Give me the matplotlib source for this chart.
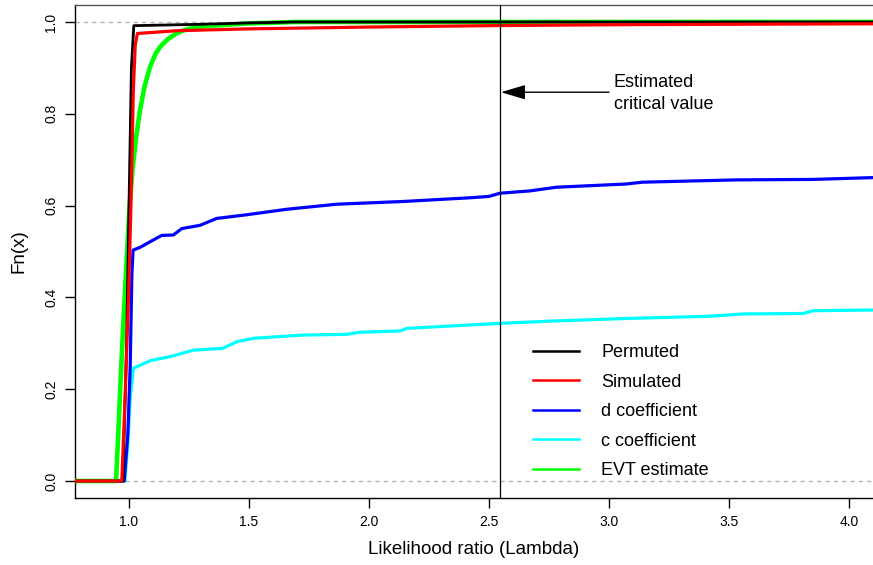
import matplotlib
matplotlib.use("Agg")
import matplotlib.pyplot as plt

plt.rcParams['font.family'] = ['Liberation Sans', 'DejaVu Sans']

# ---- data ----
perm_x = [0.775, 0.975, 0.99, 1.0, 1.01, 1.02, 1.3, 1.5, 1.7, 4.1]
perm_y = [0.0, 0.0, 0.30, 0.60, 0.90, 0.992, 0.995, 0.998, 1.0, 1.0]

sim_x = [0.775, 0.97, 0.985, 0.998, 1.008, 1.018, 1.026, 1.035, 1.2, 1.5, 2.0, 2.5, 3.0, 3.5, 4.1]
sim_y = [0.0, 0.0, 0.20, 0.40, 0.60, 0.85, 0.95, 0.975, 0.981, 0.985, 0.989, 0.992, 0.994, 0.995, 0.996]

d_x = [0.775, 0.98, 0.995, 1.005, 1.012, 1.017, 1.046, 1.101, 1.136, 1.185, 1.22, 1.296, 1.365,
       1.49, 1.657, 1.865, 2.143, 2.42, 2.50, 2.546, 2.67, 2.78, 3.07, 3.14, 3.53, 3.85, 4.1]
d_y = [0.0, 0.0, 0.10, 0.25, 0.45, 0.503, 0.509, 0.525, 0.535, 0.536, 0.550, 0.557, 0.572,
       0.580, 0.592, 0.603, 0.609, 0.617, 0.620, 0.627, 0.632, 0.640, 0.647, 0.651, 0.656, 0.657, 0.661]

c_x = [0.775, 0.983, 0.995, 1.005, 1.018, 1.0875, 1.171, 1.268, 1.39, 1.45, 1.52, 1.726, 1.907,
       1.96, 2.13, 2.157, 2.42, 2.546, 2.77, 3.07, 3.42, 3.56, 3.81, 3.85, 4.1]
c_y = [0.0, 0.0, 0.08, 0.18, 0.2455, 0.262, 0.271, 0.285, 0.289, 0.3035, 0.311, 0.318, 0.3195,
       0.324, 0.327, 0.3325, 0.340, 0.3435, 0.3486, 0.354, 0.359, 0.364, 0.365, 0.371, 0.3725]

evt_x = [0.775, 0.946, 0.955, 0.965, 0.975, 0.985, 0.995, 1.004, 1.015, 1.03, 1.046, 1.065, 1.0875,
         1.11, 1.13, 1.16, 1.2, 1.235, 1.267, 1.32, 1.38, 1.5, 1.7, 4.1]
evt_y = [0.0, 0.0, 0.10, 0.22, 0.33, 0.43, 0.53, 0.61, 0.68, 0.75, 0.808, 0.86, 0.902,
         0.93, 0.946, 0.962, 0.976, 0.983, 0.987, 0.991, 0.993, 0.997, 1.0, 1.0]

series_labels = ["Permuted", "Simulated", "d coefficient", "c coefficient", "EVT estimate"]
critical_value = 2.545
x_ticks = [1.0, 1.5, 2.0, 2.5, 3.0, 3.5, 4.0]
y_ticks = [0.0, 0.2, 0.4, 0.6, 0.8, 1.0]

W, H = 873, 565
fig = plt.figure(figsize=(W / 100, H / 100), dpi=100)
ax = fig.add_axes([75 / W, (H - 498) / H, 1 - 75 / W, (498 - 5) / H])

ax.axhline(0, color='#b3b3b3', lw=1, ls=(0, (3, 3)), zorder=1)
ax.axhline(1, color='#b3b3b3', lw=1, ls=(0, (3, 3)), zorder=1)

ax.plot(c_x, c_y, color='#00ffff', lw=2.3, zorder=2)
ax.plot(d_x, d_y, color='#0000ff', lw=2.3, zorder=3)
ax.plot(evt_x, evt_y, color='#00ff00', lw=3.3, zorder=4)
ax.plot(perm_x, perm_y, color='black', lw=2.0, zorder=5)
ax.plot(sim_x, sim_y, color='#ff0000', lw=2.3, zorder=6)

ax.axvline(critical_value, color='black', lw=0.9, zorder=7)
ax.annotate("", xy=(critical_value + 0.005, 0.847), xytext=(3.0, 0.847),
            arrowprops=dict(arrowstyle='-|>,head_length=1.5,head_width=0.45', color='black', lw=1.0,
                            shrinkA=0, shrinkB=0))
ax.text(3.02, 0.844, "Estimated\ncritical value", ha='left', va='center', fontsize=13,
        linespacing=1.42)

ax.set_xlim(0.775, 4.1)
ax.set_ylim(-0.037, 1.037)
ax.set_xticks(x_ticks)
ax.set_xticklabels([f"{v:.1f}" for v in x_ticks])
ax.set_yticks(y_ticks)
ax.set_yticklabels([f"{v:.1f}" for v in y_ticks], rotation=90, va='center')
ax.tick_params(direction='out', length=7, width=1, labelsize=10, pad=5)
ax.tick_params(axis='x', pad=5)
ax.spines['right'].set_visible(False)
for s in ['left', 'top', 'bottom']:
    ax.spines[s].set_linewidth(1)
ax.spines['top'].set_color('#555555')

ax.set_xlabel("Likelihood ratio (Lambda)", fontsize=13.5)
ax.set_ylabel("Fn(x)", fontsize=13.5, labelpad=12)
ax.xaxis.set_label_coords((474 - 75) / (W - 75), -(541 - 498) / 493)

handles = [plt.Line2D([], [], color=c, lw=1.8) for c in ['black', '#ff0000', '#0000ff', '#00ffff', '#00ff00']]
leg = ax.legend(handles, series_labels, loc='upper left', frameon=False, fontsize=13,
                bbox_to_anchor=((533 - 75) / (W - 75), (498 - 344) / 493),
                borderpad=0, borderaxespad=0,
                handlelength=2.55, handletextpad=1.22, labelspacing=0.695)

fig.savefig("out.png", dpi=100)
